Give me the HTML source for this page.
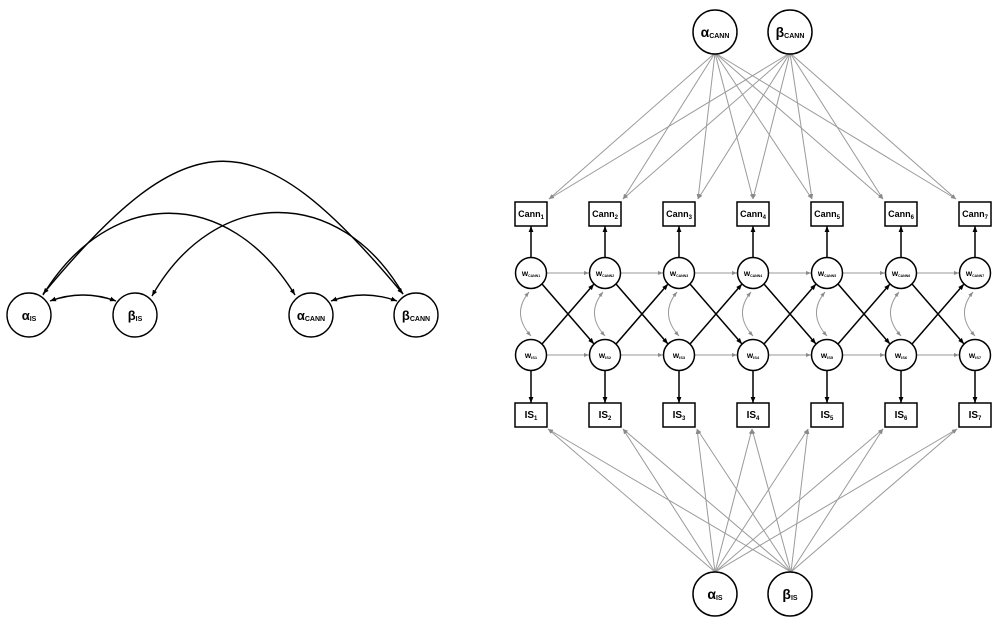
<!DOCTYPE html>
<html>
<head>
<meta charset="utf-8">
<style>
html,body{margin:0;padding:0;background:#fff;}
svg{display:block;}
text{font-family:"Liberation Sans",Arial,sans-serif;fill:#000;}
</style>
</head>
<body>
<svg width="994" height="621" viewBox="0 0 994 621" xmlns="http://www.w3.org/2000/svg">
<defs>
<marker id="ab" viewBox="0 0 10 10" refX="10" refY="5" markerWidth="6" markerHeight="6" markerUnits="userSpaceOnUse" orient="auto-start-reverse"><path d="M0,1 L10,5 L0,9 z" fill="#000"/></marker>
<marker id="ag" viewBox="0 0 10 10" refX="10" refY="5" markerWidth="5" markerHeight="5" markerUnits="userSpaceOnUse" orient="auto-start-reverse"><path d="M0,1 L10,5 L0,9 z" fill="#8a8a8a"/></marker>
</defs>

<!-- LEFT DIAGRAM -->
<g fill="none" stroke="#000" stroke-width="1.4">
<path d="M43,294 C190,117 256,117 403,294" marker-start="url(#ab)" marker-end="url(#ab)"/>
<path d="M43,295 C110,186 228,186 295,295" marker-end="url(#ab)"/>
<path d="M403,294 C340,185 215,185 152,296" marker-end="url(#ab)"/>
<path d="M50,301 Q83,289 116,301" marker-start="url(#ab)" marker-end="url(#ab)"/>
<path d="M331,301 Q364,289 397,301" marker-start="url(#ab)" marker-end="url(#ab)"/>
<circle cx="29" cy="315" r="22"/>
<circle cx="135" cy="315" r="22"/>
<circle cx="311" cy="315" r="22"/>
<circle cx="416" cy="315" r="22"/>
</g>
<text x="29" y="320" font-size="13" font-weight="bold" text-anchor="middle">α<tspan font-size="7" dy="1">IS</tspan></text>
<text x="135" y="320" font-size="13" font-weight="bold" text-anchor="middle">β<tspan font-size="7" dy="1">IS</tspan></text>
<text x="311" y="320" font-size="13" font-weight="bold" text-anchor="middle">α<tspan font-size="7" dy="1">CANN</tspan></text>
<text x="416" y="320" font-size="13" font-weight="bold" text-anchor="middle">β<tspan font-size="7" dy="1">CANN</tspan></text>

<!-- RIGHT DIAGRAM: gray loading lines top -->
<g fill="none" stroke="#9a9a9a" stroke-width="1" marker-end="url(#ag)">
<line x1="715" y1="53" x2="549" y2="199"/>
<line x1="715" y1="53" x2="623" y2="199"/>
<line x1="715" y1="53" x2="698" y2="199"/>
<line x1="715" y1="53" x2="753" y2="199"/>
<line x1="715" y1="53" x2="812" y2="199"/>
<line x1="715" y1="53" x2="883" y2="199"/>
<line x1="715" y1="53" x2="956" y2="199"/>
<line x1="790" y1="53" x2="549" y2="199"/>
<line x1="790" y1="53" x2="623" y2="199"/>
<line x1="790" y1="53" x2="698" y2="199"/>
<line x1="790" y1="53" x2="753" y2="199"/>
<line x1="790" y1="53" x2="812" y2="199"/>
<line x1="790" y1="53" x2="883" y2="199"/>
<line x1="790" y1="53" x2="956" y2="199"/>
<!-- bottom -->
<line x1="715" y1="572" x2="548" y2="429"/>
<line x1="715" y1="572" x2="623" y2="429"/>
<line x1="715" y1="572" x2="697" y2="429"/>
<line x1="715" y1="572" x2="752" y2="429"/>
<line x1="715" y1="572" x2="808" y2="429"/>
<line x1="715" y1="572" x2="883" y2="429"/>
<line x1="715" y1="572" x2="957" y2="429"/>
<line x1="791" y1="572" x2="548" y2="429"/>
<line x1="791" y1="572" x2="623" y2="429"/>
<line x1="791" y1="572" x2="697" y2="429"/>
<line x1="791" y1="572" x2="752" y2="429"/>
<line x1="791" y1="572" x2="808" y2="429"/>
<line x1="791" y1="572" x2="883" y2="429"/>
<line x1="791" y1="572" x2="957" y2="429"/>
</g>

<!-- gray horizontal + curved -->
<g fill="none" stroke="#9a9a9a" stroke-width="1">
<line x1="547" y1="273" x2="589" y2="273" marker-end="url(#ag)"/>
<line x1="621" y1="273" x2="663" y2="273" marker-end="url(#ag)"/>
<line x1="695" y1="273" x2="737" y2="273" marker-end="url(#ag)"/>
<line x1="769" y1="273" x2="811" y2="273" marker-end="url(#ag)"/>
<line x1="843" y1="273" x2="885" y2="273" marker-end="url(#ag)"/>
<line x1="917" y1="273" x2="959" y2="273" marker-end="url(#ag)"/>
<line x1="547" y1="355" x2="589" y2="355" marker-end="url(#ag)"/>
<line x1="621" y1="355" x2="663" y2="355" marker-end="url(#ag)"/>
<line x1="695" y1="355" x2="737" y2="355" marker-end="url(#ag)"/>
<line x1="769" y1="355" x2="811" y2="355" marker-end="url(#ag)"/>
<line x1="843" y1="355" x2="885" y2="355" marker-end="url(#ag)"/>
<line x1="917" y1="355" x2="959" y2="355" marker-end="url(#ag)"/>
<path d="M529,292 Q511,314 531,336" marker-start="url(#ag)" marker-end="url(#ag)"/>
<path d="M603,292 Q585,314 605,336" marker-start="url(#ag)" marker-end="url(#ag)"/>
<path d="M677,292 Q659,314 679,336" marker-start="url(#ag)" marker-end="url(#ag)"/>
<path d="M751,292 Q733,314 753,336" marker-start="url(#ag)" marker-end="url(#ag)"/>
<path d="M825,292 Q807,314 827,336" marker-start="url(#ag)" marker-end="url(#ag)"/>
<path d="M899,292 Q881,314 901,336" marker-start="url(#ag)" marker-end="url(#ag)"/>
<path d="M973,292 Q955,314 975,336" marker-start="url(#ag)" marker-end="url(#ag)"/>
</g>

<!-- black arrows -->
<g fill="none" stroke="#000" stroke-width="1.5" marker-end="url(#ab)">
<line x1="531" y1="257" x2="531" y2="226"/>
<line x1="605" y1="257" x2="605" y2="226"/>
<line x1="679" y1="257" x2="679" y2="226"/>
<line x1="753" y1="257" x2="753" y2="226"/>
<line x1="827" y1="257" x2="827" y2="226"/>
<line x1="901" y1="257" x2="901" y2="226"/>
<line x1="975" y1="257" x2="975" y2="226"/>
<line x1="531" y1="371" x2="531" y2="403"/>
<line x1="605" y1="371" x2="605" y2="403"/>
<line x1="679" y1="371" x2="679" y2="403"/>
<line x1="753" y1="371" x2="753" y2="403"/>
<line x1="827" y1="371" x2="827" y2="403"/>
<line x1="901" y1="371" x2="901" y2="403"/>
<line x1="975" y1="371" x2="975" y2="403"/>
<line x1="542" y1="284" x2="594" y2="344"/>
<line x1="616" y1="284" x2="668" y2="344"/>
<line x1="690" y1="284" x2="742" y2="344"/>
<line x1="764" y1="284" x2="816" y2="344"/>
<line x1="838" y1="284" x2="890" y2="344"/>
<line x1="912" y1="284" x2="964" y2="344"/>
<line x1="542" y1="344" x2="594" y2="284"/>
<line x1="616" y1="344" x2="668" y2="284"/>
<line x1="690" y1="344" x2="742" y2="284"/>
<line x1="764" y1="344" x2="816" y2="284"/>
<line x1="838" y1="344" x2="890" y2="284"/>
<line x1="912" y1="344" x2="964" y2="284"/>
</g>

<!-- nodes -->
<g fill="#fff" stroke="#000" stroke-width="1.5">
<circle cx="715" cy="32" r="22"/>
<circle cx="790" cy="32" r="22"/>
<circle cx="715" cy="594" r="22"/>
<circle cx="790" cy="594" r="22"/>
<rect x="515" y="202" width="32" height="24"/>
<rect x="589" y="202" width="32" height="24"/>
<rect x="663" y="202" width="32" height="24"/>
<rect x="737" y="202" width="32" height="24"/>
<rect x="811" y="202" width="32" height="24"/>
<rect x="885" y="202" width="32" height="24"/>
<rect x="959" y="202" width="32" height="24"/>
<rect x="515" y="403" width="32" height="24"/>
<rect x="589" y="403" width="32" height="24"/>
<rect x="663" y="403" width="32" height="24"/>
<rect x="737" y="403" width="32" height="24"/>
<rect x="811" y="403" width="32" height="24"/>
<rect x="885" y="403" width="32" height="24"/>
<rect x="959" y="403" width="32" height="24"/>
<circle cx="531" cy="273" r="15.5"/>
<circle cx="605" cy="273" r="15.5"/>
<circle cx="679" cy="273" r="15.5"/>
<circle cx="753" cy="273" r="15.5"/>
<circle cx="827" cy="273" r="15.5"/>
<circle cx="901" cy="273" r="15.5"/>
<circle cx="975" cy="273" r="15.5"/>
<circle cx="531" cy="355" r="15.5"/>
<circle cx="605" cy="355" r="15.5"/>
<circle cx="679" cy="355" r="15.5"/>
<circle cx="753" cy="355" r="15.5"/>
<circle cx="827" cy="355" r="15.5"/>
<circle cx="901" cy="355" r="15.5"/>
<circle cx="975" cy="355" r="15.5"/>
</g>

<!-- labels -->
<g font-weight="bold" text-anchor="middle">
<text x="715" y="37" font-size="14">α<tspan font-size="7" dy="1">CANN</tspan></text>
<text x="790" y="37" font-size="14">β<tspan font-size="7" dy="1">CANN</tspan></text>
<text x="715" y="599" font-size="14">α<tspan font-size="7" dy="1">IS</tspan></text>
<text x="790" y="599" font-size="14">β<tspan font-size="7" dy="1">IS</tspan></text>

<text x="531" y="217" font-size="9">Cann<tspan font-size="6" dy="2">1</tspan></text>
<text x="605" y="217" font-size="9">Cann<tspan font-size="6" dy="2">2</tspan></text>
<text x="679" y="217" font-size="9">Cann<tspan font-size="6" dy="2">3</tspan></text>
<text x="753" y="217" font-size="9">Cann<tspan font-size="6" dy="2">4</tspan></text>
<text x="827" y="217" font-size="9">Cann<tspan font-size="6" dy="2">5</tspan></text>
<text x="901" y="217" font-size="9">Cann<tspan font-size="6" dy="2">6</tspan></text>
<text x="975" y="217" font-size="9">Cann<tspan font-size="6" dy="2">7</tspan></text>

<text x="531" y="418" font-size="10">IS<tspan font-size="6" dy="2">1</tspan></text>
<text x="605" y="418" font-size="10">IS<tspan font-size="6" dy="2">2</tspan></text>
<text x="679" y="418" font-size="10">IS<tspan font-size="6" dy="2">3</tspan></text>
<text x="753" y="418" font-size="10">IS<tspan font-size="6" dy="2">4</tspan></text>
<text x="827" y="418" font-size="10">IS<tspan font-size="6" dy="2">5</tspan></text>
<text x="901" y="418" font-size="10">IS<tspan font-size="6" dy="2">6</tspan></text>
<text x="975" y="418" font-size="10">IS<tspan font-size="6" dy="2">7</tspan></text>

<text x="531" y="276" font-size="8">w<tspan font-size="3.5" dy="1">CANN1</tspan></text>
<text x="605" y="276" font-size="8">w<tspan font-size="3.5" dy="1">CANN2</tspan></text>
<text x="679" y="276" font-size="8">w<tspan font-size="3.5" dy="1">CANN3</tspan></text>
<text x="753" y="276" font-size="8">w<tspan font-size="3.5" dy="1">CANN4</tspan></text>
<text x="827" y="276" font-size="8">w<tspan font-size="3.5" dy="1">CANN5</tspan></text>
<text x="901" y="276" font-size="8">w<tspan font-size="3.5" dy="1">CANN6</tspan></text>
<text x="975" y="276" font-size="8">w<tspan font-size="3.5" dy="1">CANN7</tspan></text>

<text x="531" y="358" font-size="8">w<tspan font-size="4" dy="1">IS1</tspan></text>
<text x="605" y="358" font-size="8">w<tspan font-size="4" dy="1">IS2</tspan></text>
<text x="679" y="358" font-size="8">w<tspan font-size="4" dy="1">IS3</tspan></text>
<text x="753" y="358" font-size="8">w<tspan font-size="4" dy="1">IS4</tspan></text>
<text x="827" y="358" font-size="8">w<tspan font-size="4" dy="1">IS5</tspan></text>
<text x="901" y="358" font-size="8">w<tspan font-size="4" dy="1">IS6</tspan></text>
<text x="975" y="358" font-size="8">w<tspan font-size="4" dy="1">IS7</tspan></text>
</g>
</svg>
</body>
</html>
